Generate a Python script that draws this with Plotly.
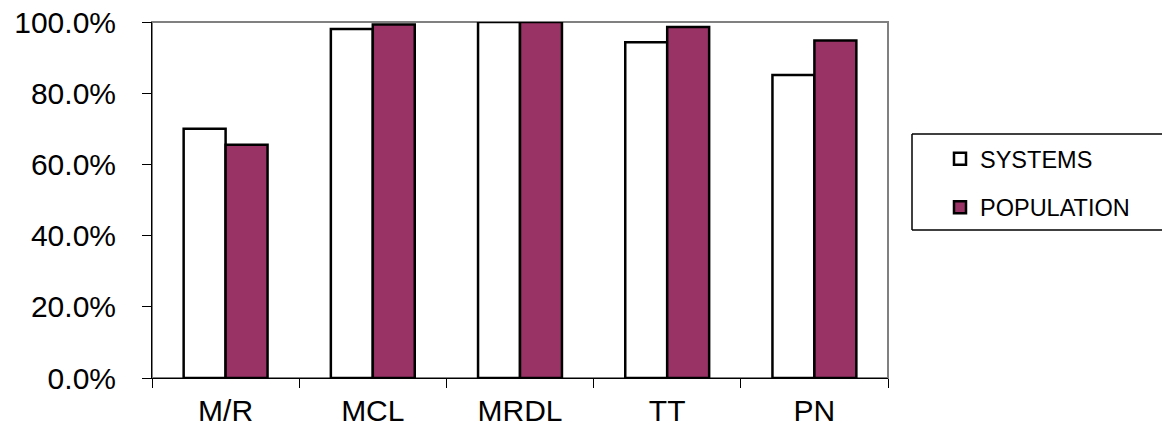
import plotly.graph_objects as go

categories = ["M/R", "MCL", "MRDL", "TT", "PN"]
systems = [0.70, 0.98, 1.00, 0.943, 0.851]
population = [0.655, 0.993, 1.00, 0.986, 0.948]

W, H = 1162, 435
# plot area in page pixels
L, R, T, B = 152, 888, 22, 378

def px_x(px):
    return (px - L) / (R - L)

def px_y(py):
    return (B - py) / (B - T)

fig = go.Figure()
fig.add_trace(go.Bar(
    x=categories, y=systems, name="SYSTEMS",
    marker=dict(color="white", line=dict(color="black", width=2.5)),
    legendgroup="a",
))
fig.add_trace(go.Bar(
    x=categories, y=population, name="POPULATION",
    marker=dict(color="#993366", line=dict(color="black", width=2.5)),
    legendgroup="b",
))

lx0, lx1, ly0, ly1 = px_x(912), px_x(1200), px_y(230), px_y(134)
fig.update_layout(
    width=W, height=H,
    margin=dict(l=L, r=W - R, t=T, b=H - B, pad=0, autoexpand=False),
    paper_bgcolor="white", plot_bgcolor="white",
    barmode="group", bargap=0.43, bargroupgap=0,
    font=dict(family="Liberation Sans, Arial, sans-serif", color="black"),
    showlegend=True,
    legend=dict(
        x=px_x(940), y=px_y(137), xanchor="left", yanchor="top",
        font=dict(size=23.5), bgcolor="rgba(0,0,0,0)", borderwidth=0,
        tracegroupgap=15, traceorder="grouped",
    ),
    shapes=[
        dict(type="rect", xref="paper", yref="paper", x0=0, x1=1, y0=0, y1=1,
             line=dict(color="#808080", width=2), layer="below"),
        dict(type="line", xref="paper", yref="paper", x0=lx0, x1=lx1, y0=ly1, y1=ly1,
             line=dict(color="black", width=1.5)),
        dict(type="line", xref="paper", yref="paper", x0=lx0, x1=lx1, y0=ly0, y1=ly0,
             line=dict(color="black", width=1.5)),
        dict(type="line", xref="paper", yref="paper", x0=lx0, x1=lx0, y0=ly0, y1=ly1,
             line=dict(color="black", width=1.5)),
    ],
)
fig.update_xaxes(
    showline=True, linecolor="black", linewidth=1,
    ticks="outside", tickson="boundaries", ticklen=9, tickcolor="black",
    tickfont=dict(size=30), showgrid=False, ticklabelstandoff=6,
)
fig.update_yaxes(
    range=[0, 1], dtick=0.2, tickformat=".1%",
    showline=True, linecolor="black", linewidth=1,
    ticks="outside", ticklen=9, tickcolor="black",
    tickfont=dict(size=30), showgrid=False, zeroline=False,
    ticklabelstandoff=20, ticklabeloverflow="allow",
)

fig.write_html(
    "out.html",
    config={"displayModeBar": False},
    post_script="document.body.style.margin='0';document.body.style.overflow='hidden';",
)
